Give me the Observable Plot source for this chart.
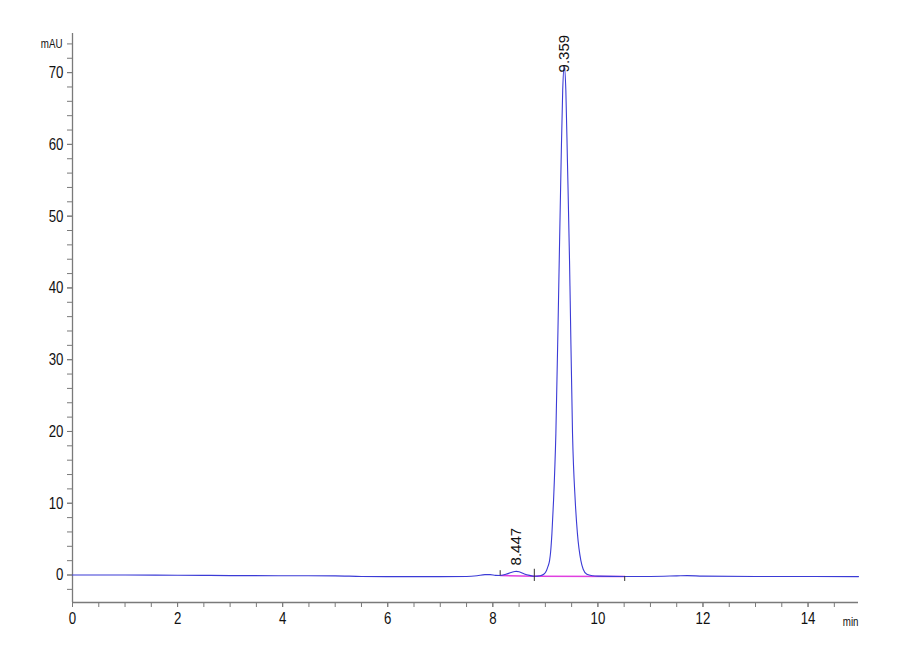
<!DOCTYPE html>
<html>
<head>
<meta charset="utf-8">
<script src="https://cdn.jsdelivr.net/npm/d3@7"></script>
<script src="https://cdn.jsdelivr.net/npm/@observablehq/plot@0.6"></script>
<style>
  html, body { margin: 0; padding: 0; background: #fff; }
  #chart svg { display: block; }
  #chart g[aria-label$="tick"] path { stroke: #7a7a7a; }
</style>
</head>
<body>
<div id="chart"></div>
<script>
// Retention time (min) and signal (mAU)
const times = [0, 1, 2, 2.5, 3, 4, 5, 5.5, 6, 7, 7.5, 7.7, 7.85, 7.95, 8.05, 8.14, 8.25, 8.35, 8.42, 8.447, 8.5, 8.6, 8.7, 8.79, 8.9, 8.97, 9.02, 9.05, 9.08, 9.1, 9.125, 9.156, 9.2, 9.25, 9.264, 9.3, 9.33, 9.359, 9.39, 9.42, 9.46, 9.473, 9.517, 9.568, 9.61, 9.676, 9.72, 9.79, 9.9, 10, 10.5, 11, 11.5, 11.7, 12, 13, 14, 14.96];
const signal = [0.0, 0.0, -0.03, -0.05, -0.08, -0.1, -0.12, -0.2, -0.22, -0.22, -0.2, -0.1, 0.05, 0.05, -0.05, -0.07, 0.1, 0.35, 0.48, 0.5, 0.45, 0.15, -0.05, -0.17, -0.1, 0.1, 0.6, 1.2, 2.0, 3.2, 5.8, 10.4, 19.7, 38.2, 43.8, 57.7, 67.5, 71.0, 67.5, 57.7, 43.8, 38.2, 19.7, 10.4, 5.8, 2.0, 0.8, 0.1, -0.1, -0.15, -0.2, -0.2, -0.12, -0.08, -0.15, -0.2, -0.2, -0.22];

// Integration baseline and event marks
const baselineT = [8.14, 8.79, 10.51];
const baselineV = [-0.07, -0.17, -0.2];
const eventT = [8.14, 8.79, 10.51];
const eventTop = [0.6, 0.8, -0.2];
const eventBottom = [-0.1, -0.9, -0.9];

// Peak annotations
const peakLabels = ["8.447", "9.359"];
const peakT = [8.447, 9.359];
const peakH = [0.5, 71.0];

// Axis ticks
const xMajor = [0, 2, 4, 6, 8, 10, 12, 14];
const yMajor = [0, 10, 20, 30, 40, 50, 60, 70];
const xMinor = d3.range(0, 15, 0.5);
const yMinor = d3.range(-2, 75, 2);

const xDomain = [0, 14.96];
const yDomain = [-3.83, 75.45];

const data = times.map((t, i) => ({t, v: signal[i]}));
const baseline = baselineT.map((t, i) => ({t, v: baselineV[i]}));
const events = eventT.map((t, i) => ({t, y1: eventTop[i], y2: eventBottom[i]}));
const peaks = peakT.map((t, i) => ({t, v: peakH[i], label: peakLabels[i]}));

const sans = "'Liberation Sans', Arial, sans-serif";
const axisColor = "#7a7a7a";

const chart = Plot.plot({
  width: 900,
  height: 660,
  marginLeft: 72,
  marginRight: 42,
  marginTop: 33,
  marginBottom: 58,
  style: {fontFamily: sans, fontSize: "16px", color: "#111", background: "#fff"},
  x: {domain: xDomain},
  y: {domain: yDomain},
  marks: [
    Plot.ruleX([0], {y1: yDomain[0], y2: yDomain[1], stroke: axisColor, strokeWidth: 1.3}),
    Plot.ruleY([yDomain[0]], {x1: xDomain[0], x2: xDomain[1], stroke: axisColor, strokeWidth: 1.6}),
    Plot.axisX({ticks: xMinor, tickSize: 5, tickFormat: () => "", label: null, stroke: axisColor}),
    Plot.axisX({ticks: xMajor, tickSize: 5, tickPadding: 4, label: null, stroke: axisColor, fill: "#111", fontSize: 17, className: "narrow"}),
    Plot.axisY({ticks: yMinor, tickSize: 5, tickFormat: () => "", label: null, stroke: axisColor}),
    Plot.axisY({ticks: yMajor, tickSize: 5, tickPadding: 4, label: null, stroke: axisColor, fill: "#111", fontSize: 17, className: "narrow"}),
    Plot.text(["mAU"], {x: 0, y: 74, dx: -10, textAnchor: "end", fontSize: 12.5, fill: "#111", className: "narrow"}),
    Plot.text(["min"], {x: xDomain[1], y: yDomain[0], dy: 19, textAnchor: "end", fontSize: 12.5, fill: "#111", className: "narrow"}),
    Plot.line(baseline, {x: "t", y: "v", stroke: "#e040e0", strokeWidth: 1.6}),
    Plot.line(data, {x: "t", y: "v", stroke: "#3b3bd6", strokeWidth: 1.1, curve: "monotone-x"}),
    Plot.ruleX(events, {x: "t", y1: "y1", y2: "y2", stroke: "#333", strokeWidth: 1}),
    Plot.text([peaks[0]], {x: "t", y: "v", text: "label", rotate: -90, textAnchor: "start", dy: -6, fontSize: 15, fill: "#111"}),
    Plot.text([peaks[1]], {x: "t", y: "v", text: "label", rotate: -90, textAnchor: "start", dy: 7, fontSize: 15, fill: "#111"})
  ]
});
// Condense the horizontal labels like the instrument's narrow font
chart.querySelectorAll("g.narrow text, .narrow text").forEach(el => {
  const tr = el.getAttribute("transform") || "";
  el.setAttribute("transform", (tr + " scale(0.78,1)").trim());
});
document.getElementById("chart").appendChild(chart);
</script>
</body>
</html>
